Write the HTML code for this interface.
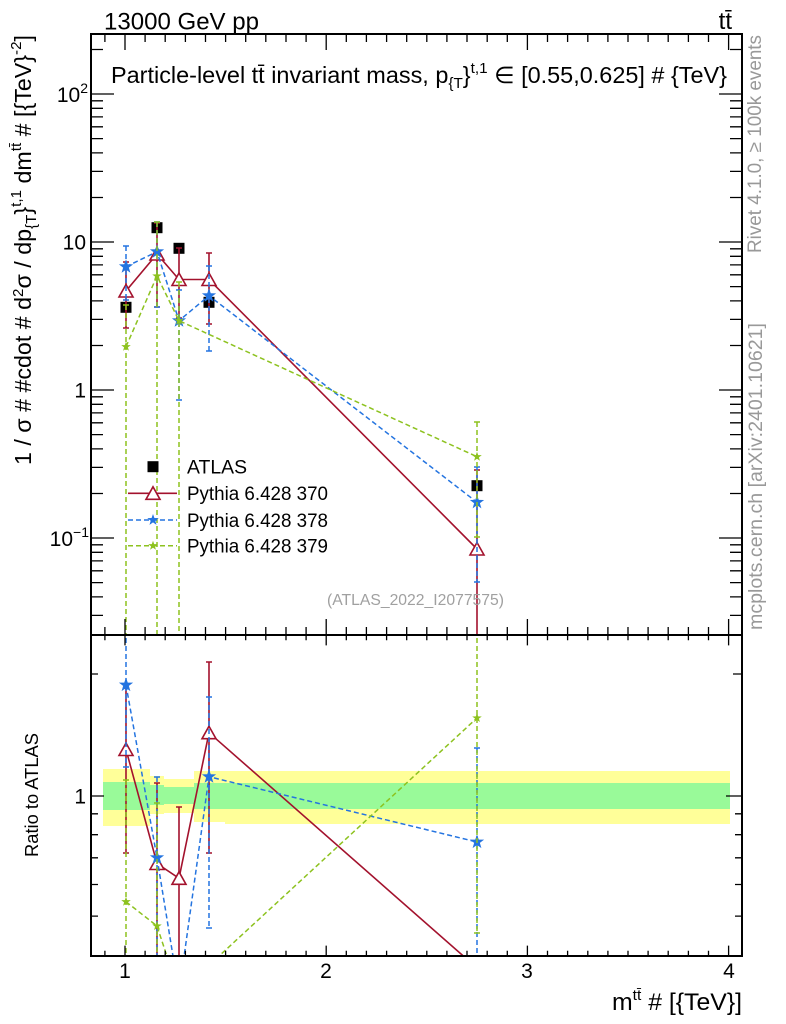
<!DOCTYPE html>
<html><head><meta charset="utf-8"><style>
html,body{margin:0;padding:0;background:#fff;overflow:hidden;}
svg{display:block;}
text{font-family:"Liberation Sans",Arial,Helvetica,sans-serif;}
</style></head><body>
<svg width="786" height="1024" viewBox="0 0 786 1024" xmlns="http://www.w3.org/2000/svg">
<defs>
<clipPath id="cm"><rect x="91" y="34" width="651" height="601"/></clipPath>
<clipPath id="cr"><rect x="91" y="635" width="651" height="321"/></clipPath>
</defs>
<rect width="786" height="1024" fill="#fff"/>

<!-- ===== MAIN PANEL DATA ===== -->
<g clip-path="url(#cm)">
 <!-- ATLAS -->
 <g fill="#000">
  <rect x="120.5" y="301.8" width="11" height="11"/>
  <rect x="151.5" y="222.2" width="11" height="11"/>
  <rect x="173.5" y="242.8" width="11" height="11"/>
  <rect x="203.5" y="296.8" width="11" height="11"/>
  <rect x="471.5" y="480.2" width="11" height="11"/>
 </g>
 <!-- Pythia 370 red -->
 <g stroke="#a3122d" stroke-width="1.6" fill="none">
  <path d="M126 262V328M123 262h6M123 328h6M157 223V307M154 223h6M154 307h6M179 248V318M176 248h6M176 318h6M209 253V324M206 253h6M206 324h6M477 470V640M474 470h6"/>
  <polyline points="126,291 157,254 179,279.5 209,279.5 477,549"/>
  <g fill="#fff">
   <polygon points="126,284.5 119,297 133,297"/>
   <polygon points="157,247.5 150,260 164,260"/>
   <polygon points="179,273 172,285.5 186,285.5"/>
   <polygon points="209,273 202,285.5 216,285.5"/>
   <polygon points="477,542.5 470,555 484,555"/>
  </g>
 </g>
 <!-- Pythia 378 blue -->
 <g stroke="#2474e0" stroke-width="1.5" fill="none">
  <path stroke-dasharray="5,3" d="M126 246V300M157 222V307M179 290V400M209 266V351M477 467V582"/>
  <path d="M123 246h6M123 300h6M154 222h6M154 307h6M176 290h6M176 400h6M206 266h6M206 351h6M474 467h6M474 582h6"/>
  <polyline stroke-dasharray="5,3" points="126,266.7 157,251.7 179,320.7 209,295.7 477,502.3"/>
 </g>
 <g fill="#2474e0">
  <polygon transform="translate(126,266.7)" points="0,-7.5 1.76,-2.43 7.13,-2.32 2.85,0.93 4.41,6.07 0,3 -4.41,6.07 -2.85,0.93 -7.13,-2.32 -1.76,-2.43"/>
  <polygon transform="translate(157,251.7)" points="0,-7.5 1.76,-2.43 7.13,-2.32 2.85,0.93 4.41,6.07 0,3 -4.41,6.07 -2.85,0.93 -7.13,-2.32 -1.76,-2.43"/>
  <polygon transform="translate(179,320.7)" points="0,-7.5 1.76,-2.43 7.13,-2.32 2.85,0.93 4.41,6.07 0,3 -4.41,6.07 -2.85,0.93 -7.13,-2.32 -1.76,-2.43"/>
  <polygon transform="translate(209,295.7)" points="0,-7.5 1.76,-2.43 7.13,-2.32 2.85,0.93 4.41,6.07 0,3 -4.41,6.07 -2.85,0.93 -7.13,-2.32 -1.76,-2.43"/>
  <polygon transform="translate(477,502.3)" points="0,-7.5 1.76,-2.43 7.13,-2.32 2.85,0.93 4.41,6.07 0,3 -4.41,6.07 -2.85,0.93 -7.13,-2.32 -1.76,-2.43"/>
 </g>
 <!-- Pythia 379 green -->
 <g stroke="#8dc21f" stroke-width="1.5" fill="none">
  <path stroke-dasharray="5,3" d="M126 305V640M157 222V640M179 282V640M477 422V537"/>
  <path d="M123 305h6M154 222h6M176 282h6M474 422h6M474 537h6"/>
  <polyline stroke-dasharray="5,3" points="126,346.7 157,276 179,320.7 477,456.7"/>
 </g>
 <g fill="#8dc21f">
  <polygon transform="translate(126,346.7)" points="0,-5 1.18,-1.62 4.76,-1.55 1.9,0.62 2.94,4.05 0,2 -2.94,4.05 -1.9,0.62 -4.76,-1.55 -1.18,-1.62"/>
  <polygon transform="translate(157,276)" points="0,-5 1.18,-1.62 4.76,-1.55 1.9,0.62 2.94,4.05 0,2 -2.94,4.05 -1.9,0.62 -4.76,-1.55 -1.18,-1.62"/>
  <polygon transform="translate(179,320.7)" points="0,-5 1.18,-1.62 4.76,-1.55 1.9,0.62 2.94,4.05 0,2 -2.94,4.05 -1.9,0.62 -4.76,-1.55 -1.18,-1.62"/>
  <polygon transform="translate(477,456.7)" points="0,-5 1.18,-1.62 4.76,-1.55 1.9,0.62 2.94,4.05 0,2 -2.94,4.05 -1.9,0.62 -4.76,-1.55 -1.18,-1.62"/>
 </g>
</g>

<!-- ===== RATIO PANEL DATA ===== -->
<g clip-path="url(#cr)">
 <g fill="#ffff99">
  <rect x="103" y="769" width="47" height="57"/>
  <rect x="150" y="776" width="14" height="38"/>
  <rect x="164" y="779" width="30" height="34"/>
  <rect x="194" y="771" width="31" height="51"/>
  <rect x="225" y="771" width="505" height="53"/>
 </g>
 <g fill="#99fa99">
  <rect x="103" y="782" width="47" height="28"/>
  <rect x="150" y="785" width="14" height="20"/>
  <rect x="164" y="787" width="30" height="17"/>
  <rect x="194" y="783" width="31" height="26"/>
  <rect x="225" y="783" width="505" height="26"/>
 </g>
 <!-- red -->
 <g stroke="#a3122d" stroke-width="1.6" fill="none">
  <path d="M126 688V853M123 688h6M123 853h6M157 783V960M154 783h6M179 807V960M176 807h6M209 662V853M206 662h6M206 853h6"/>
  <polyline points="126,749.5 157,863.5 179,878.3 209,732.7 477,968"/>
  <g fill="#fff">
   <polygon points="126,743 119,755.5 133,755.5"/>
   <polygon points="157,857 150,869.5 164,869.5"/>
   <polygon points="179,871.8 172,884.3 186,884.3"/>
   <polygon points="209,726.2 202,738.7 216,738.7"/>
  </g>
 </g>
 <!-- blue -->
 <g stroke="#2474e0" stroke-width="1.5" fill="none">
  <path stroke-dasharray="5,3" d="M126 630V767M157 777V960M209 697V928M477 748V960"/>
  <path d="M123 767h6M154 777h6M206 697h6M206 928h6M474 748h6"/>
  <polyline stroke-dasharray="5,3" points="126,685 157,857.7 179,993 209,776.7 477,842"/>
 </g>
 <g fill="#2474e0">
  <polygon transform="translate(126,685)" points="0,-7.5 1.76,-2.43 7.13,-2.32 2.85,0.93 4.41,6.07 0,3 -4.41,6.07 -2.85,0.93 -7.13,-2.32 -1.76,-2.43"/>
  <polygon transform="translate(157,857.7)" points="0,-7.5 1.76,-2.43 7.13,-2.32 2.85,0.93 4.41,6.07 0,3 -4.41,6.07 -2.85,0.93 -7.13,-2.32 -1.76,-2.43"/>
  <polygon transform="translate(209,776.7)" points="0,-7.5 1.76,-2.43 7.13,-2.32 2.85,0.93 4.41,6.07 0,3 -4.41,6.07 -2.85,0.93 -7.13,-2.32 -1.76,-2.43"/>
  <polygon transform="translate(477,842)" points="0,-7.5 1.76,-2.43 7.13,-2.32 2.85,0.93 4.41,6.07 0,3 -4.41,6.07 -2.85,0.93 -7.13,-2.32 -1.76,-2.43"/>
 </g>
 <!-- green -->
 <g stroke="#8dc21f" stroke-width="1.5" fill="none">
  <path stroke-dasharray="5,3" d="M126 780V960M157 803V960M477 630V933"/>
  <path d="M123 780h6M154 803h6M474 933h6"/>
  <polyline stroke-dasharray="5,3" points="126,901.7 157,926 179,993 477,718"/>
 </g>
 <g fill="#8dc21f">
  <polygon transform="translate(126,901.7)" points="0,-5 1.18,-1.62 4.76,-1.55 1.9,0.62 2.94,4.05 0,2 -2.94,4.05 -1.9,0.62 -4.76,-1.55 -1.18,-1.62"/>
  <polygon transform="translate(157,926)" points="0,-5 1.18,-1.62 4.76,-1.55 1.9,0.62 2.94,4.05 0,2 -2.94,4.05 -1.9,0.62 -4.76,-1.55 -1.18,-1.62"/>
  <polygon transform="translate(477,718)" points="0,-5 1.18,-1.62 4.76,-1.55 1.9,0.62 2.94,4.05 0,2 -2.94,4.05 -1.9,0.62 -4.76,-1.55 -1.18,-1.62"/>
 </g>
</g>

<!-- ===== AXES / TICKS ===== -->
<g stroke="#000" stroke-width="1.3" fill="none">
 <!-- main top -->
 <g transform="translate(0,34)">
  <path d="M104.9 0v8M145.1 0v8M165.2 0v8M185.4 0v8M205.5 0v8M225.6 0v8M245.7 0v8M265.8 0v8M286 0v8M306.1 0v8M346.3 0v8M366.4 0v8M386.6 0v8M406.7 0v8M426.8 0v8M446.9 0v8M467 0v8M487.2 0v8M507.3 0v8M547.5 0v8M567.6 0v8M587.8 0v8M607.9 0v8M628 0v8M648.1 0v8M668.2 0v8M688.4 0v8M708.5 0v8"/>
  <path d="M125 0v16M326.2 0v16M527.4 0v16M728.6 0v16"/>
 </g>
 <!-- main bottom -->
 <g transform="translate(0,635) scale(1,-1)">
  <path d="M104.9 0v8M145.1 0v8M165.2 0v8M185.4 0v8M205.5 0v8M225.6 0v8M245.7 0v8M265.8 0v8M286 0v8M306.1 0v8M346.3 0v8M366.4 0v8M386.6 0v8M406.7 0v8M426.8 0v8M446.9 0v8M467 0v8M487.2 0v8M507.3 0v8M547.5 0v8M567.6 0v8M587.8 0v8M607.9 0v8M628 0v8M648.1 0v8M668.2 0v8M688.4 0v8M708.5 0v8"/>
  <path d="M125 0v16M326.2 0v16M527.4 0v16M728.6 0v16"/>
 </g>
 <!-- ratio top -->
 <g transform="translate(0,635) scale(1,0.65)">
  <path d="M104.9 0v8M145.1 0v8M165.2 0v8M185.4 0v8M205.5 0v8M225.6 0v8M245.7 0v8M265.8 0v8M286 0v8M306.1 0v8M346.3 0v8M366.4 0v8M386.6 0v8M406.7 0v8M426.8 0v8M446.9 0v8M467 0v8M487.2 0v8M507.3 0v8M547.5 0v8M567.6 0v8M587.8 0v8M607.9 0v8M628 0v8M648.1 0v8M668.2 0v8M688.4 0v8M708.5 0v8"/>
  <path d="M125 0v16M326.2 0v16M527.4 0v16M728.6 0v16"/>
 </g>
 <!-- ratio bottom -->
 <g transform="translate(0,956) scale(1,-0.65)">
  <path d="M104.9 0v8M145.1 0v8M165.2 0v8M185.4 0v8M205.5 0v8M225.6 0v8M245.7 0v8M265.8 0v8M286 0v8M306.1 0v8M346.3 0v8M366.4 0v8M386.6 0v8M406.7 0v8M426.8 0v8M446.9 0v8M467 0v8M487.2 0v8M507.3 0v8M547.5 0v8M567.6 0v8M587.8 0v8M607.9 0v8M628 0v8M648.1 0v8M668.2 0v8M688.4 0v8M708.5 0v8"/>
  <path d="M125 0v16M326.2 0v16M527.4 0v16M728.6 0v16"/>
 </g>
 <!-- main y left -->
 <g transform="translate(91,0)">
  <path d="M0 615.4h12M0 596.9h12M0 582.6h12M0 570.8h12M0 560.9h12M0 552.3h12M0 544.8h12M0 493.5h12M0 467.4h12M0 448.9h12M0 434.6h12M0 422.8h12M0 412.9h12M0 404.3h12M0 396.8h12M0 345.5h12M0 319.4h12M0 300.9h12M0 286.6h12M0 274.8h12M0 264.9h12M0 256.3h12M0 248.8h12M0 197.5h12M0 171.4h12M0 152.9h12M0 138.6h12M0 126.8h12M0 116.9h12M0 108.3h12M0 100.8h12M0 49.5h12"/>
  <path d="M0 538h23M0 390h23M0 242h23M0 94h23"/>
 </g>
 <!-- main y right -->
 <g transform="translate(742,0) scale(-1,1)">
  <path d="M0 615.4h12M0 596.9h12M0 582.6h12M0 570.8h12M0 560.9h12M0 552.3h12M0 544.8h12M0 493.5h12M0 467.4h12M0 448.9h12M0 434.6h12M0 422.8h12M0 412.9h12M0 404.3h12M0 396.8h12M0 345.5h12M0 319.4h12M0 300.9h12M0 286.6h12M0 274.8h12M0 264.9h12M0 256.3h12M0 248.8h12M0 197.5h12M0 171.4h12M0 152.9h12M0 138.6h12M0 126.8h12M0 116.9h12M0 108.3h12M0 100.8h12M0 49.5h12"/>
  <path d="M0 538h23M0 390h23M0 242h23M0 94h23"/>
 </g>
 <!-- ratio y -->
 <path d="M91 796h13M91 674h7M91 813.8h7M91 834.7h7M91 857.8h7M91 884.5h7M91 916.1h7"/>
 <path d="M742 796h-16M742 674h-9M742 813.8h-7M742 834.7h-7M742 857.8h-7M742 884.5h-7M742 916.1h-7"/>
</g>
<!-- frames -->
<rect x="91" y="34" width="651" height="601" fill="none" stroke="#000" stroke-width="2"/>
<rect x="91" y="635" width="651" height="321" fill="none" stroke="#000" stroke-width="2"/>

<!-- ===== LEGEND ===== -->
<rect x="147.5" y="461.2" width="11" height="11" fill="#000"/>
<line x1="128" y1="493.3" x2="177" y2="493.3" stroke="#a3122d" stroke-width="1.6"/>
<polygon points="153,486.8 146,499.3 160,499.3" fill="#fff" stroke="#a3122d" stroke-width="1.6"/>
<line x1="128" y1="520" x2="177" y2="520" stroke="#2474e0" stroke-width="1.5" stroke-dasharray="5,3"/>
<polygon transform="translate(153,520)" points="0,-6 1.41,-1.94 5.7,-1.86 2.28,0.74 3.53,4.86 0,2.4 -3.53,4.86 -2.28,0.74 -5.7,-1.86 -1.41,-1.94" fill="#2474e0"/>
<line x1="128" y1="545.7" x2="177" y2="545.7" stroke="#8dc21f" stroke-width="1.5" stroke-dasharray="5,3"/>
<polygon transform="translate(153,545.7)" points="0,-5 1.18,-1.62 4.76,-1.55 1.9,0.62 2.94,4.05 0,2 -2.94,4.05 -1.9,0.62 -4.76,-1.55 -1.18,-1.62" fill="#8dc21f"/>
<g font-size="19" fill="#000">
 <text x="187" y="473.7" textLength="60" lengthAdjust="spacingAndGlyphs">ATLAS</text>
 <text x="187" y="500.2" textLength="141" lengthAdjust="spacingAndGlyphs">Pythia 6.428 370</text>
 <text x="187" y="526.8" textLength="141" lengthAdjust="spacingAndGlyphs">Pythia 6.428 378</text>
 <text x="187" y="552.6" textLength="141" lengthAdjust="spacingAndGlyphs">Pythia 6.428 379</text>
</g>
<text x="327" y="605" font-size="15.5" fill="#a0a0a0" textLength="177" lengthAdjust="spacingAndGlyphs">(ATLAS_2022_I2077575)</text>

<!-- ===== TEXT ===== -->
<text x="104" y="29.5" font-size="24" textLength="155" lengthAdjust="spacingAndGlyphs">13000 GeV pp</text>
<text x="732" y="29" font-size="24" text-anchor="end">tt̄</text>

<text x="111" y="83" font-size="23" textLength="616" lengthAdjust="spacingAndGlyphs">Particle-level tt̄ invariant mass, p<tspan font-size="15" dy="5">{T</tspan><tspan dy="-5">}</tspan><tspan font-size="15" dy="-10">t,1</tspan><tspan dy="10"> ∈ [0.55,0.625] # {TeV}</tspan></text>

<text transform="translate(31,465) rotate(-90)" font-size="23" textLength="430" lengthAdjust="spacingAndGlyphs">1 / σ # #cdot # d<tspan dy="-8" font-size="15">2</tspan><tspan dy="8">σ / dp</tspan><tspan dy="5" font-size="15">{T</tspan><tspan dy="-5">}</tspan><tspan dy="-10" font-size="15">t,1</tspan><tspan dy="10"> dm</tspan><tspan dy="-10" font-size="15">tt̄</tspan><tspan dy="10"> # [{TeV}</tspan><tspan dy="-10" font-size="15">-2</tspan><tspan dy="10">]</tspan></text>

<text transform="translate(38,857) rotate(-90)" font-size="18" textLength="124" lengthAdjust="spacingAndGlyphs">Ratio to ATLAS</text>

<g fill="#999" font-size="19">
 <text transform="translate(761,253) rotate(-90)" textLength="218" lengthAdjust="spacingAndGlyphs">Rivet 4.1.0, ≥ 100k events</text>
 <text transform="translate(762,630) rotate(-90)" textLength="307" lengthAdjust="spacingAndGlyphs">mcplots.cern.ch [arXiv:2401.10621]</text>
</g>

<!-- y tick labels -->
<g font-size="21" text-anchor="end">
 <text x="88" y="102">10<tspan font-size="14" dy="-9">2</tspan></text>
 <text x="86" y="249.5">10</text>
 <text x="86" y="397.5">1</text>
 <text x="89" y="546">10<tspan font-size="14" dy="-9">−1</tspan></text>
 <text x="86" y="803.5">1</text>
</g>
<!-- x tick labels -->
<g font-size="21" text-anchor="middle">
 <text x="125" y="978">1</text>
 <text x="326" y="978">2</text>
 <text x="527" y="978">3</text>
 <text x="729" y="978">4</text>
</g>
<text x="612" y="1010" font-size="24" textLength="130" lengthAdjust="spacingAndGlyphs">m<tspan font-size="15" dy="-10">tt̄</tspan><tspan dy="10"> # [{TeV}]</tspan></text>
</svg>
</body></html>
